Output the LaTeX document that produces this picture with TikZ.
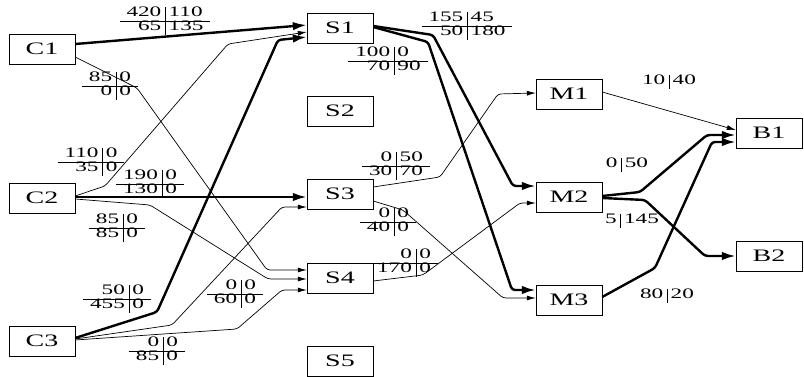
\documentclass[tikz,border=0pt]{standalone}
\usepackage{fontspec}
\setmainfont[FakeStretch=1.6]{Liberation Serif}
\usetikzlibrary{arrows.meta}
\setlength{\arrayrulewidth}{0.7pt}
\newcommand{\flowtab}[4]{{\fontsize{14.5}{12.5}\selectfont\begin{tabular}{@{\hspace{7pt}}r@{\hspace{4pt}}|@{\hspace{3pt}}l@{\hspace{7pt}}}#1&#2\\\hline#3&#4\end{tabular}}}
\newcommand{\flowrow}[2]{{\fontsize{14.5}{12.5}\selectfont\begin{tabular}{@{}r@{\hspace{4pt}}|@{\hspace{3pt}}l@{}}#1&#2\end{tabular}}}
\begin{document}
\begin{tikzpicture}[x=1pt,y=-1pt,font=\fontsize{17.5}{20}\selectfont]
\tikzset{blk/.style={draw,thin,minimum width=66pt,minimum height=30pt,inner sep=0pt},
  lnk/.style={-{Latex[length=9pt,width=5pt]},line width=0.7pt,rounded corners=3pt},
  hvy/.style={-{Latex[length=14pt,width=8.5pt]},line width=2.4pt,rounded corners=3pt},
  tab/.style={inner sep=0pt}}
\useasboundingbox (0,0) rectangle (804,377);
\node[blk] (c1) at (42,49) {C1};
\node[blk] (c2) at (42,198) {C2};
\node[blk] (c3) at (42,341) {C3};
\node[blk] (s1) at (340,28) {S1};
\node[blk] (s2) at (340,111) {S2};
\node[blk] (s3) at (340,194) {S3};
\node[blk] (s4) at (340,278) {S4};
\node[blk] (s5) at (340,361) {S5};
\node[blk] (m1) at (569,94) {M1};
\node[blk] (m2) at (569,197) {M2};
\node[blk] (m3) at (569,300) {M3};
\node[blk] (b1) at (769,133) {B1};
\node[blk] (b2) at (769,256) {B2};
\draw[hvy] ([yshift=5pt]c1.east) -- ([yshift=3pt]s1.west);
\draw[lnk] ([yshift=-8pt]c1.east) -- (137,88) -- (267,270) -- ([yshift=8pt]s4.west);
\draw[lnk] ([yshift=2pt]c2.east) -- (105,186) -- (228,44) -- ([yshift=-4pt]s1.west);
\draw[hvy] ([yshift=1pt]c2.east) -- ([yshift=-3pt]s3.west);
\draw[lnk] ([yshift=-1pt]c2.east) -- (150,205) -- (268,279) -- ([yshift=-1pt]s4.west);
\draw[hvy] ([yshift=3pt]c3.east) -- (157,312) -- (278,40) -- ([yshift=-9pt]s1.west);
\draw[lnk] ([yshift=2pt]c3.east) -- (172,325) -- (282,207) -- ([yshift=-13pt]s3.west);
\draw[lnk] ([yshift=1pt]c3.east) -- (237,329) -- (282,290) -- ([yshift=-12pt]s4.west);
\draw[hvy] ([yshift=2pt]s1.east) -- (433,35) -- (513,186) -- ([yshift=11pt]m2.west);
\draw[hvy] ([yshift=1pt]s1.east) -- (428,42) -- (512,290) -- ([yshift=10pt]m3.west);
\draw[lnk] ([yshift=7pt]s3.east) -- (440,177) -- (498,94) -- ([yshift=1pt]m1.west);
\draw[lnk] ([yshift=-7pt]s3.east) -- (403,210) -- (503,298) -- ([yshift=2pt]m3.west);
\draw[lnk] ([yshift=-3pt]s4.east) -- (423,275) -- (520,203) -- ([yshift=-6pt]m2.west);
\draw[lnk] ([yshift=2pt]m1.east) -- ([yshift=3pt]b1.west);
\draw[hvy] ([yshift=1pt]m2.east) -- (640,192) -- (707,135) -- ([yshift=-2pt]b1.west);
\draw[hvy] ([yshift=-1pt]m2.east) -- (645,200) -- (705,256) -- (b2.west);
\draw[hvy] ([yshift=3pt]m3.east) -- (655,268) -- (712,142) -- ([yshift=-9pt]b1.west);
\node[tab] (lc1s1) at (165,21) {\flowtab{420}{110}{65}{135}};
\node[tab] (lc1s4) at (110,86) {\flowtab{85}{0}{0}{0}};
\node[tab] (lc2s1) at (91,162) {\flowtab{110}{0}{35}{0}};
\node[tab] (lc2s3) at (150,184) {\flowtab{190}{0}{130}{0}};
\node[tab] (lc2s4) at (117,228) {\flowtab{85}{0}{85}{0}};
\node[tab] (lc3s1) at (117,299) {\flowtab{50}{0}{455}{0}};
\node[tab] (lc3s3) at (235,294) {\flowtab{0}{0}{60}{0}};
\node[tab] (lc3s4) at (157,351) {\flowtab{0}{0}{85}{0}};
\node[tab] (ls1m2) at (467,26) {\flowtab{155}{45}{50}{180}};
\node[tab] (ls1m3) at (388,61) {\flowtab{100}{0}{70}{90}};
\node[tab] (ls3m1) at (396,166) {\flowtab{0}{50}{30}{70}};
\node[tab] (ls3m3) at (388,222) {\flowtab{0}{0}{40}{0}};
\node[tab] (ls4m2) at (404,263) {\flowtab{0}{0}{170}{0}};
\node[tab] (lm1b1) at (669,82) {\flowrow{10}{40}};
\node[tab] (lm2b1) at (627,165) {\flowrow{0}{50}};
\node[tab] (lm2b2) at (632,221) {\flowrow{5}{145}};
\node[tab] (lm3b1) at (667,296) {\flowrow{80}{20}};
\end{tikzpicture}
\end{document}
